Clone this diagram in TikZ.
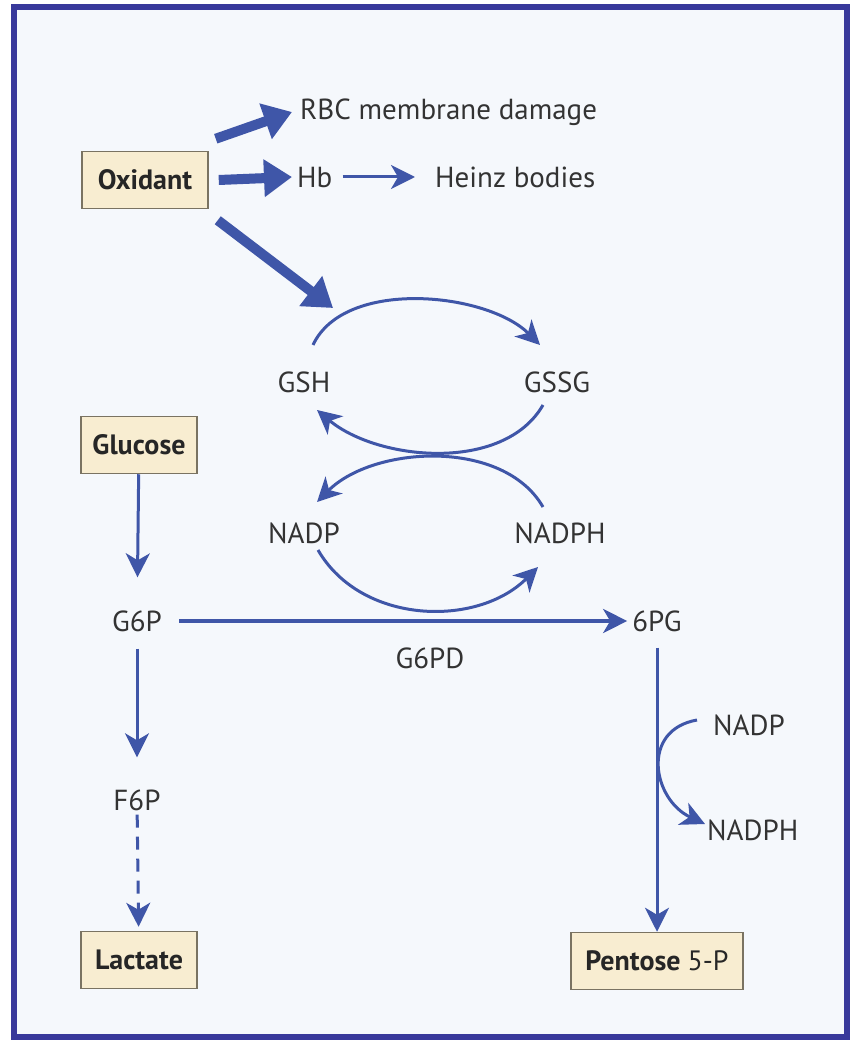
\documentclass[tikz,border=0pt]{standalone}
\usepackage{fontspec}
\setmainfont{PT Sans}
\usepackage{tikz}
\usetikzlibrary{positioning, arrows.meta, calc}
\definecolor{frameColor}{HTML}{38399B}
\definecolor{paperColor}{HTML}{F5F8FC}
\definecolor{boxColor}{HTML}{F8EDD1}
\definecolor{boxLine}{HTML}{7A7362}
\definecolor{arrowColor}{HTML}{3F56A8}
\definecolor{textColor}{HTML}{333333}

\begin{document}
\begin{tikzpicture}[
  x=1pt, y=-1pt,
  every node/.style={
    text=textColor,
    font=\fontsize{29}{33}\selectfont,
    inner sep=4pt
  },
  box/.style={
    rectangle,
    draw=boxLine,
    fill=boxColor,
    line width=1.5pt,
    minimum height=57pt,
    font=\fontsize{28}{32}\selectfont\bfseries,
    text=black!85
  },
  arrow/.style={
    -{Stealth[length=24pt, width=24pt, inset=7pt]},
    draw=arrowColor,
    line width=3pt
  },
  bigarrow/.style={
    -{Triangle[length=28pt, width=36pt]},
    draw=arrowColor,
    line width=10pt
  }
]
  % Frame
  \fill[white] (0,0) rectangle (850,1040);
  \draw[frameColor, line width=6pt, fill=paperColor] (14,7) rectangle (847,1037);

  % Define nodes
  \node[box, minimum width=126pt] (oxidant) at (145,180) {Oxidant};
  \node[anchor=west] (rbc) at (296,112) {RBC membrane damage};
  \node[anchor=west] (hb) at (293,177) {Hb};
  \node[anchor=west] (heinz) at (431,177) {Heinz bodies};
  \coordinate (attack) at (333,308);
  \node (gsh) at (304,382) {GSH};
  \node (gssg) at (557,382) {GSSG};
  \node (nadp) at (304,533) {NADP};
  \node (nadph) at (560,533) {NADPH};
  \node[box, minimum width=116pt] (glucose) at (139,445) {Glucose};
  \node (g6p) at (137,621) {G6P};
  \node (pg) at (657,621) {6PG};
  \node (g6pd) at (430,658) {G6PD};
  \node (f6p) at (137,800) {F6P};
  \node[anchor=west] (nadpR) at (709,725) {NADP};
  \node[anchor=west] (nadphR) at (703,830) {NADPH};
  \node[box, minimum width=116pt] (lactate) at (139,960) {Lactate};
  \node[box, minimum width=172pt] (pentose) at (657,961) {Pentose \mdseries 5-P};

  % Oxidant damage
  \draw[bigarrow] ([xshift=7pt, yshift=12pt]oxidant.north east) -- ([xshift=-4pt]rbc.west);
  \draw[bigarrow] ([xshift=10pt]oxidant.east) -- ([xshift=-1pt]hb.west);
  \draw[bigarrow] ([xshift=9pt, yshift=-11pt]oxidant.south east) -- (attack);
  \draw[arrow, shorten <=6pt, shorten >=16pt] (hb) -- (heinz);

  % Glutathione and NADP cycles
  \draw[arrow] ($(gsh)+(9,-37)$) to[out=65, in=135, looseness=0.84] ($(gssg)+(-17,-37)$);
  \draw[arrow] ($(gssg)+(-14,23)$) to[out=-120, in=-40, looseness=0.89] ($(gsh)+(13,28)$);
  \draw[arrow] ($(nadph)+(-17,-26)$) to[out=120, in=45, looseness=0.9] ($(nadp)+(13,-31)$);
  \draw[arrow] ($(nadp)+(14,17)$) to[out=-60, in=-135, looseness=1.0] ($(nadph)+(-22,34)$);

  % Glycolysis and pentose pathway
  \draw[arrow, shorten >=29pt] (glucose) -- (g6p);
  \draw[arrow, shorten <=13pt, shorten >=28pt] (g6p) -- (f6p);
  \draw[arrow, dash pattern=on 13pt off 9pt, shorten >=4pt] (f6p) -- (lactate);
  \draw[arrow, line width=4pt, shorten <=13pt, shorten >=1pt] (g6p) -- (pg);
  \draw[arrow, shorten <=12pt] (pg) -- (pentose);
  \draw[arrow] ([xshift=-12pt, yshift=5pt]nadpR.west) to[out=190, in=155, looseness=1.42] ([xshift=2pt, yshift=6pt]nadphR.west);
\end{tikzpicture}
\end{document}
